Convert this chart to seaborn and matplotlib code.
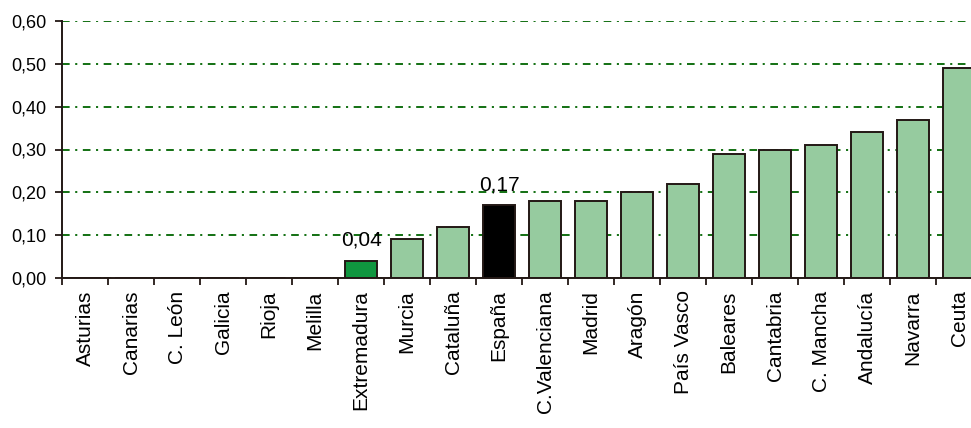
import pandas as pd
import matplotlib
matplotlib.use("Agg")
import matplotlib.pyplot as plt
import numpy as np
import seaborn as sns

regions = ["Asturias", "Canarias", "C. León", "Galicia", "Rioja", "Melilla",
           "Extremadura", "Murcia", "Cataluña", "España", "C.Valenciana",
           "Madrid", "Aragón", "País Vasco", "Baleares", "Cantabria",
           "C. Mancha", "Andalucía", "Navarra", "Ceuta"]
values = [0.0, 0.0, 0.0, 0.0, 0.0, 0.0, 0.04, 0.09, 0.12, 0.17, 0.18,
          0.18, 0.20, 0.22, 0.29, 0.30, 0.31, 0.34, 0.37, 0.49]
labelled = ["Extremadura", "España"]

LIGHT = "#96cb9f"
EDGE = "#231815"
GRID = "#006400"
colors = {r: LIGHT for r in regions}
colors["Extremadura"] = "#10963f"
colors["España"] = "#000000"

sns.set_style("white")
plt.rcParams["font.family"] = ["Liberation Sans", "DejaVu Sans"]
plt.rcParams["lines.scale_dashes"] = False
plt.rcParams["text.color"] = "black"
plt.rcParams["xtick.color"] = "black"
plt.rcParams["ytick.color"] = "black"

df = pd.DataFrame({"region": regions, "value": values})

fig = plt.figure(figsize=(9.71, 4.28), dpi=100)
# axes extends past the right edge so the last bar is cut off like the original
ax = fig.add_axes([62 / 971, 150 / 428, 920 / 971, 257 / 428])

sns.barplot(data=df, x="region", y="value", hue="region", palette=colors,
            legend=False, width=0.68, edgecolor=EDGE, linewidth=1.4,
            saturation=1, ax=ax, zorder=3)

ax.set_ylim(0, 0.6)
ax.set_xlim(-0.5, len(regions) - 0.5)
ax.set_yticks(np.arange(0, 0.61, 0.1))
ax.set_yticklabels([f"{v:.2f}".replace(".", ",") for v in np.arange(0, 0.61, 0.1)],
                   fontsize=13)
ax.yaxis.grid(True, color=GRID, linewidth=1.3,
              linestyle=(0, (5.5, 4, 1.5, 4)), zorder=1)
ax.xaxis.grid(False)
ax.set_axisbelow(True)

ax.set_xticks(range(len(regions)))
ax.set_xticklabels(regions, rotation=90, fontsize=15, va="top", ha="center")
ax.set_xticks(np.arange(-0.5, len(regions), 1), minor=True)
ax.tick_params(axis="x", which="major", length=0, pad=9)
ax.tick_params(axis="x", which="minor", length=5, width=1.3, color=EDGE,
               direction="out", bottom=True)
ax.tick_params(axis="y", length=5, width=1.3, color=EDGE, direction="out",
               left=True, pad=6)
ax.set_xlabel("")
ax.set_ylabel("")

for side in ["top", "right"]:
    ax.spines[side].set_visible(False)
for side in ["left", "bottom"]:
    ax.spines[side].set_color(EDGE)
    ax.spines[side].set_linewidth(1.4)
    ax.spines[side].set_zorder(4)

for name in labelled:
    i = regions.index(name)
    ax.annotate(f"{values[i]:.2f}".replace(".", ","), (i, values[i]),
                xytext=(0, 8), textcoords="offset points",
                ha="center", va="bottom", fontsize=15)

fig.savefig("out.png", dpi=100)
